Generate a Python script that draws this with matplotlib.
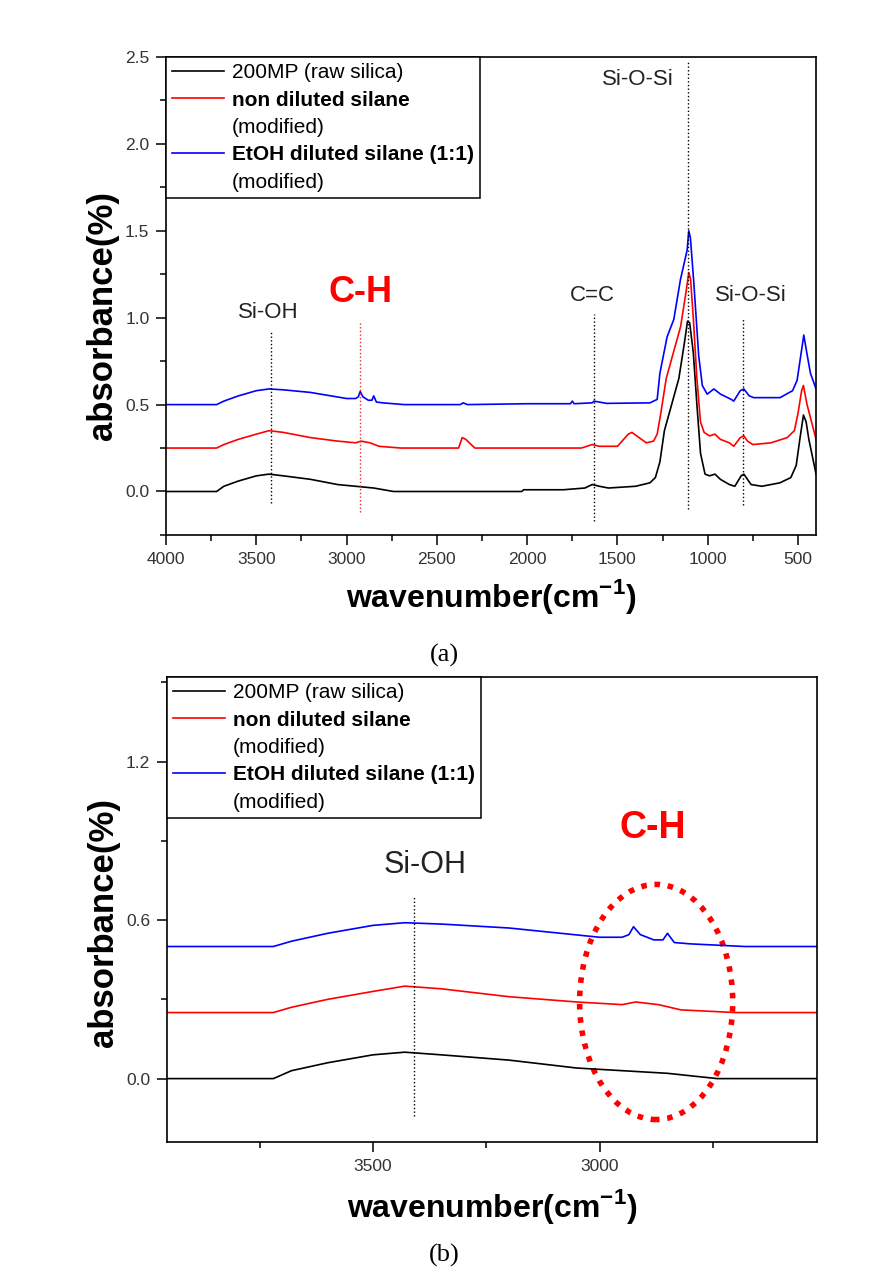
import numpy as np
import matplotlib
matplotlib.use('Agg')
import matplotlib.pyplot as plt
from matplotlib.lines import Line2D
from matplotlib.patches import Ellipse
from matplotlib.ticker import MultipleLocator

plt.rcParams['font.family'] = ['Liberation Sans', 'DejaVu Sans']
plt.rcParams['mathtext.fontset'] = 'custom'
plt.rcParams['mathtext.rm'] = 'Liberation Sans'
plt.rcParams['mathtext.bf'] = 'Liberation Sans:bold'

# FTIR spectra (wavenumber cm-1, absorbance)
WN_RAW = [4000, 3720, 3680, 3600, 3500, 3430, 3350, 3200, 3050, 2950, 2850, 2740, 2030, 2020,
          1800, 1680, 1640, 1600, 1550, 1400, 1320, 1290, 1265, 1240, 1200, 1160, 1130, 1112,
          1100, 1080, 1060, 1040, 1015, 990, 960, 930, 880, 850, 815, 800, 780, 760, 700, 600,
          540, 510, 490, 470, 455, 440, 420, 400]
ABS_RAW = [0.0, 0.0, 0.03, 0.06, 0.09, 0.10, 0.09, 0.07, 0.04, 0.03, 0.02, 0.0, 0.0, 0.01,
           0.01, 0.02, 0.04, 0.03, 0.02, 0.03, 0.05, 0.08, 0.17, 0.35, 0.50, 0.65, 0.85, 0.98,
           0.97, 0.80, 0.50, 0.22, 0.10, 0.09, 0.10, 0.07, 0.04, 0.03, 0.09, 0.10, 0.07, 0.04,
           0.03, 0.05, 0.08, 0.15, 0.30, 0.44, 0.40, 0.30, 0.20, 0.10]

WN_NONDIL = [4000, 3720, 3680, 3600, 3500, 3430, 3350, 3200, 3050, 2950, 2920, 2870, 2820, 2700,
             2380, 2360, 2340, 2310, 2290, 1700, 1640, 1600, 1500, 1440, 1420, 1380, 1340, 1300,
             1280, 1260, 1230, 1190, 1150, 1120, 1105, 1095, 1080, 1060, 1040, 1020, 990, 960,
             930, 880, 856, 820, 800, 780, 750, 650, 560, 520, 500, 480, 470, 450, 430, 400]
ABS_NONDIL = [0.25, 0.25, 0.27, 0.30, 0.33, 0.35, 0.34, 0.31, 0.29, 0.28, 0.29, 0.28, 0.26, 0.25,
              0.25, 0.31, 0.30, 0.27, 0.25, 0.25, 0.27, 0.26, 0.26, 0.33, 0.34, 0.31, 0.28, 0.29,
              0.33, 0.45, 0.65, 0.80, 0.95, 1.15, 1.26, 1.22, 1.00, 0.65, 0.40, 0.34, 0.32, 0.33,
              0.30, 0.28, 0.26, 0.31, 0.32, 0.29, 0.27, 0.28, 0.31, 0.35, 0.45, 0.58, 0.61, 0.50,
              0.42, 0.30]

WN_ETOH = [4000, 3720, 3680, 3600, 3500, 3430, 3350, 3200, 3000, 2950, 2935, 2925, 2910, 2880,
           2860, 2850, 2835, 2800, 2680, 2370, 2355, 2330, 2000, 1760, 1750, 1740, 1640, 1630,
           1560, 1320, 1280, 1265, 1225, 1188, 1151, 1114, 1105, 1096, 1077, 1050, 1030, 1003,
           966, 929, 870, 856, 820, 800, 770, 745, 600, 530, 505, 468, 450, 431, 400]
ABS_ETOH = [0.50, 0.50, 0.52, 0.55, 0.58, 0.59, 0.585, 0.57, 0.535, 0.535, 0.545, 0.575, 0.545, 0.525,
            0.525, 0.55, 0.515, 0.51, 0.50, 0.50, 0.51, 0.50, 0.505, 0.505, 0.52, 0.505, 0.51, 0.52,
            0.507, 0.51, 0.53, 0.68, 0.89, 0.99, 1.22, 1.39, 1.50, 1.46, 1.20, 0.78, 0.61, 0.56,
            0.59, 0.56, 0.53, 0.52, 0.58, 0.59, 0.55, 0.54, 0.54, 0.58, 0.64, 0.90, 0.79, 0.68, 0.59]

SERIES = [(WN_RAW, ABS_RAW, '#000000'),
          (WN_NONDIL, ABS_NONDIL, '#ff0000'),
          (WN_ETOH, ABS_ETOH, '#0000ff')]
LEG_LABELS = ['200MP (raw silica)', 'non diluted silane', '(modified)',
              'EtOH diluted silane (1:1)', '(modified)']
LEG_COLORS = ['#000000', '#ff0000', 'none', '#0000ff', 'none']
LEG_BOLD = [False, True, False, True, False]


def panel(ax, xlim, ylim, xmaj, xmin, ymaj, ymin):
    for wn, ab, c in SERIES:
        ax.plot(wn, ab, color=c, lw=1.2)
    ax.set_xlim(*xlim)
    ax.set_ylim(*ylim)
    ax.xaxis.set_major_locator(MultipleLocator(xmaj))
    ax.xaxis.set_minor_locator(MultipleLocator(xmin))
    ax.yaxis.set_major_locator(MultipleLocator(ymaj))
    ax.yaxis.set_minor_locator(MultipleLocator(ymin))
    ax.tick_params(which='both', direction='out', top=False, right=False,
                   labelsize=12.5, labelcolor='#333333', width=1.1, pad=5)
    ax.tick_params(which='major', length=7)
    ax.tick_params(which='minor', length=4)
    for s in ax.spines.values():
        s.set_linewidth(1.2)
    handles = [Line2D([], [], color=c, lw=1.2) for c in LEG_COLORS]
    leg = ax.legend(handles, LEG_LABELS, loc='upper left', bbox_to_anchor=(0, 1),
                    borderaxespad=0, fancybox=False, edgecolor='k', framealpha=1,
                    fontsize=15, handlelength=2.5, handletextpad=0.35,
                    labelspacing=0.4, borderpad=0.3)
    leg.get_frame().set_linewidth(1.1)
    for t, b in zip(leg.get_texts(), LEG_BOLD):
        if b:
            t.set_fontweight('bold')
    ax.set_xlabel('wavenumber(cm$^{\\mathbf{-1}}$)', fontsize=23, fontweight='bold')
    ax.set_ylabel('absorbance(%)', fontsize=25, fontweight='bold')


fig = plt.figure(figsize=(8.88, 12.81), dpi=100)

# ---- (a) full range ----
ax1 = fig.add_axes([0.187, 0.5824, 0.732, 0.3731])
panel(ax1, (4000, 400), (-0.25, 2.5), 500, 250, 0.5, 0.25)
ax1.xaxis.set_label_coords(0.5, -0.088)
ax1.yaxis.set_label_coords(-0.072, 0.46)
ax1.plot([3418, 3418], [-0.065, 0.93], ':', color='k', lw=1)
ax1.plot([2925, 2925], [-0.12, 0.98], ':', color='#e03030', lw=1)
ax1.plot([1628, 1628], [-0.17, 1.02], ':', color='k', lw=1)
ax1.plot([1112, 1112], [-0.10, 2.48], ':', color='k', lw=1)
ax1.plot([802, 802], [-0.08, 1.00], ':', color='k', lw=1)
ax1.text(3435, 1.03, 'Si-OH', fontsize=16, ha='center', va='center', color='#222222')
ax1.text(2925, 1.145, 'C-H', fontsize=26, fontweight='bold', ha='center', va='center', color='#ff0000')
ax1.text(1640, 1.13, 'C=C', fontsize=16, ha='center', va='center', color='#222222')
ax1.text(1388, 2.37, 'Si-O-Si', fontsize=16, ha='center', va='center', color='#222222')
ax1.text(763, 1.13, 'Si-O-Si', fontsize=16, ha='center', va='center', color='#222222')

# ---- (b) zoom on O-H / C-H region ----
ax2 = fig.add_axes([0.188, 0.1085, 0.732, 0.363])
panel(ax2, (3955, 2520), (-0.24, 1.52), 500, 250, 0.6, 0.3)
ax2.xaxis.set_label_coords(0.5, -0.097)
ax2.yaxis.set_label_coords(-0.072, 0.473)
ax2.plot([3410, 3410], [-0.14, 0.69], ':', color='k', lw=1)
ax2.text(3385, 0.81, 'Si-OH', fontsize=22, ha='center', va='center', color='#222222')
ax2.text(2883, 0.95, 'C-H', fontsize=27, fontweight='bold', ha='center', va='center', color='#ff0000')
ax2.add_patch(Ellipse((2875, 0.29), 338, 0.89, fill=False, edgecolor='#ff0000',
                      lw=4, linestyle=(0, (1, 1.4)), capstyle='butt'))

fig.text(0.5, 0.4887, '(a)', fontsize=19, family='Liberation Serif', ha='center', va='center')
fig.text(0.5, 0.0203, '(b)', fontsize=19, family='Liberation Serif', ha='center', va='center')

fig.savefig('out.png', dpi=100)
